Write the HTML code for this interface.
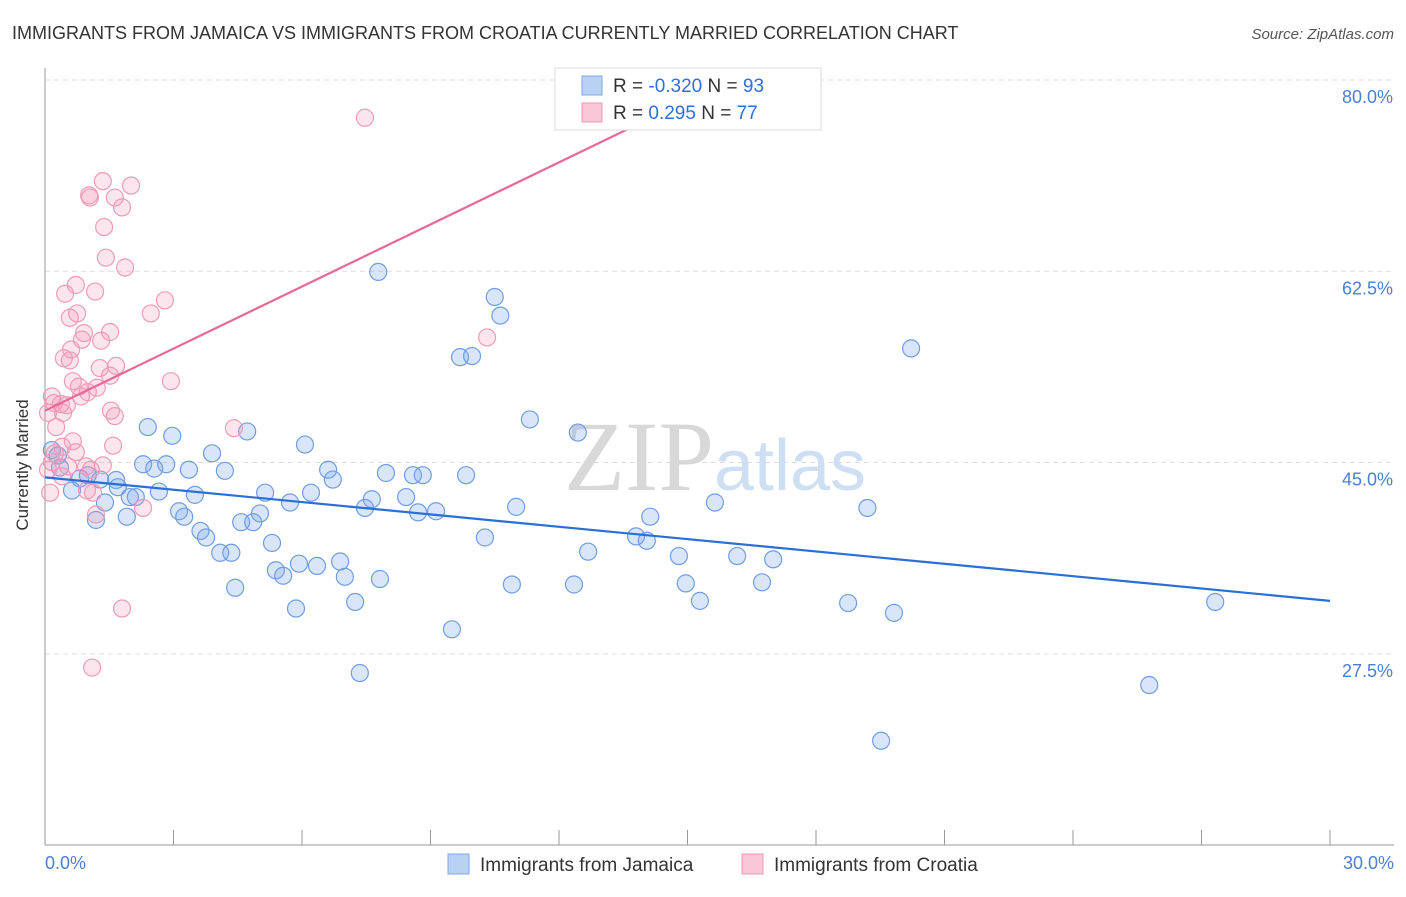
<!DOCTYPE html>
<html><head><meta charset="utf-8">
<style>
body{margin:0;background:#fff;font-family:"Liberation Sans",sans-serif;}
svg text{font-family:"Liberation Sans",sans-serif;}
</style></head>
<body>
<svg width="1406" height="892">
<text x="12" y="39" font-size="18" fill="#333">IMMIGRANTS FROM JAMAICA VS IMMIGRANTS FROM CROATIA CURRENTLY MARRIED CORRELATION CHART</text>
<text x="1394" y="39" font-size="15" fill="#555" font-style="italic" text-anchor="end">Source: ZipAtlas.com</text>
<g id="grid"></g>
<text x="715" y="490" font-size="100" fill="#ddd" text-anchor="middle" font-family="Liberation Serif"><tspan fill="#d8d8d8" font-family="Liberation Serif">ZIP</tspan><tspan fill="#cfdff3" font-size="72" font-family="Liberation Sans">atlas</tspan></text>
<line x1="45" y1="68" x2="45" y2="845" stroke="#999"/>
<line x1="45" y1="845" x2="1394" y2="845" stroke="#999"/>
<text x="18" y="455" font-size="17" fill="#333" text-anchor="middle" transform="rotate(-90 28 455)">Currently Married</text>
<text x="45" y="869" font-size="18" fill="#4a7fd4">0.0%</text>
<text x="1394" y="869" font-size="18" fill="#4a7fd4" text-anchor="end">30.0%</text>
<g id="pts"></g>
<g id="lines"></g>
<g>
<rect x="555" y="68" width="266" height="62" fill="#fff" stroke="#ddd"/>
<rect x="582" y="76" width="20" height="19" fill="#b9d2f4" stroke="#7fa7e6"/>
<rect x="582" y="103" width="20" height="19" fill="#f9c6d6" stroke="#ee9ab5"/>
<text x="613" y="92" font-size="19" fill="#333">R = <tspan fill="#2f6fd6">-0.320</tspan>   N = <tspan fill="#2f6fd6">93</tspan></text>
<text x="613" y="119" font-size="19" fill="#333">R =  <tspan fill="#2f6fd6"> 0.295</tspan>   N = <tspan fill="#2f6fd6">77</tspan></text>
</g>
<g>
<rect x="448" y="854" width="21" height="20" fill="#b9d2f4" stroke="#7fa7e6"/>
<text x="480" y="871" font-size="19" fill="#333">Immigrants from Jamaica</text>
<rect x="742" y="854" width="21" height="20" fill="#f9c6d6" stroke="#ee9ab5"/>
<text x="774" y="871" font-size="19" fill="#333">Immigrants from Croatia</text>
</g>
</svg>
<script>
const yTicks=[80,62.5,45,27.5];
const xTicks=[0,3,6,9,12,15,18,21,24,27,30];
const blueX=[7.78,10.5,10.63,9.69,9.97,20.22,11.32,12.44,2.4,2.97,4.72,6.07,3.9,2.29,2.83,2.55,3.36,4.2,6.61,6.72,7.96,8.59,8.82,9.83,0.16,0.3,0.35,0.63,0.82,1.0,1.29,1.4,1.66,1.7,1.98,2.12,1.91,1.19,2.66,3.5,5.14,6.21,5.72,7.63,8.43,7.47,8.71,9.13,11.0,15.64,19.2,14.13,3.13,3.25,5.02,4.58,4.86,3.63,3.76,5.3,4.09,4.35,10.27,13.8,14.05,12.68,14.8,16.16,17.0,5.93,5.39,5.56,6.35,6.89,7.0,7.82,10.9,12.35,14.96,16.74,4.44,15.29,7.24,18.75,5.86,19.82,27.32,9.5,7.35,25.78,19.52];
const blueY=[64.0,61.7,60.0,56.2,56.3,57.0,50.5,49.3,49.8,49.0,49.4,48.2,47.4,46.4,46.4,46.0,45.9,45.8,45.9,45.0,45.6,45.4,45.4,45.4,47.7,47.2,46.1,44.0,45.1,45.4,45.0,42.9,44.96,44.3,43.4,43.4,41.6,41.3,43.9,43.6,43.8,43.8,42.9,43.2,43.4,42.4,42.0,42.1,42.5,42.9,42.4,41.6,42.1,41.6,41.9,41.1,41.1,40.3,39.7,39.2,38.3,38.3,39.7,39.8,39.4,38.4,38.0,38.0,37.7,37.3,36.7,36.2,37.1,37.5,36.1,35.9,35.4,35.4,35.5,35.6,35.1,33.9,33.8,33.7,33.2,32.8,33.8,31.3,27.3,26.2,21.1];
const pinkX=[7.47,2.01,1.35,1.03,1.05,1.63,1.8,1.38,1.42,1.87,0.72,0.47,1.17,2.8,0.75,0.58,2.47,0.91,1.52,1.31,0.86,0.61,10.32,0.44,0.58,1.28,1.66,1.52,0.65,0.79,1.21,2.94,1.0,0.84,0.16,0.21,0.37,0.51,0.42,0.07,1.54,1.63,4.41,0.26,1.59,0.65,0.4,0.72,0.23,0.16,0.54,0.96,1.35,1.07,0.07,0.4,0.98,1.12,0.12,2.29,1.19,1.8,1.1];
const pinkY=[78.1,71.9,72.3,71.0,70.8,70.8,69.9,68.1,65.3,64.4,62.8,62.0,62.2,61.4,60.2,59.8,60.2,58.4,58.5,57.7,57.8,56.9,58.0,56.1,55.9,55.2,55.4,54.5,54.0,53.5,53.4,54.0,53.0,52.6,52.6,52.0,51.9,51.8,51.1,51.1,51.3,50.8,49.7,49.8,48.1,48.5,48.0,47.5,47.4,46.6,46.2,46.2,46.3,45.9,45.9,45.3,44.0,43.8,43.8,42.4,41.8,33.2,27.8];
const blueTrend=[[0,45.2],[30,33.9]];
const pinkTrend=[[0,51.3],[15,79.7]];
const X=v=>45+v*(1285/30);
const Y=v=>97+(80-v)*10.93;
const NS='http://www.w3.org/2000/svg';
function mk(t,a,p){const e=document.createElementNS(NS,t);for(const k in a)e.setAttribute(k,a[k]);p.appendChild(e);return e;}
const grid=document.getElementById('grid');
yTicks.forEach(t=>{
  const l=mk('line',{x1:45,x2:1394,y1:Y(t)-17,y2:Y(t)-17,stroke:'#ddd','stroke-dasharray':'5,4'},grid);
  
  
  const tx=mk('text',{x:1393,y:Y(t)+6,'font-size':18,fill:'#4a7fd4','text-anchor':'end'},grid);
  tx.textContent=t.toFixed(1)+'%';
  
  
});
xTicks.forEach(t=>{
  const l=mk('line',{x1:X(t),x2:X(t),y1:830,y2:845,stroke:'#999'},grid);
  
  
});
const pts=document.getElementById('pts');
blueX.forEach((x,i)=>{
  const c=mk('circle',{cx:X(x),cy:Y(blueY[i]),r:8.5,fill:'rgba(120,165,235,0.28)',stroke:'#6f9de3','stroke-width':1.2},pts);
  
  
});
pinkX.forEach((x,i)=>{
  const c=mk('circle',{cx:X(x),cy:Y(pinkY[i]),r:8.5,fill:'rgba(245,150,185,0.25)',stroke:'#ef9bb8','stroke-width':1.2},pts);
  
  
});
const lines=document.getElementById('lines');
const bl=mk('line',{x1:X(blueTrend[0][0]),y1:Y(blueTrend[0][1]),x2:X(blueTrend[1][0]),y2:Y(blueTrend[1][1]),stroke:'#2a6fd6','stroke-width':2.2},lines);


const pl=mk('line',{x1:X(pinkTrend[0][0]),y1:Y(pinkTrend[0][1]),x2:X(pinkTrend[1][0]),y2:Y(pinkTrend[1][1]),stroke:'#e8689a','stroke-width':2.2},lines);


</script>
</body></html>
